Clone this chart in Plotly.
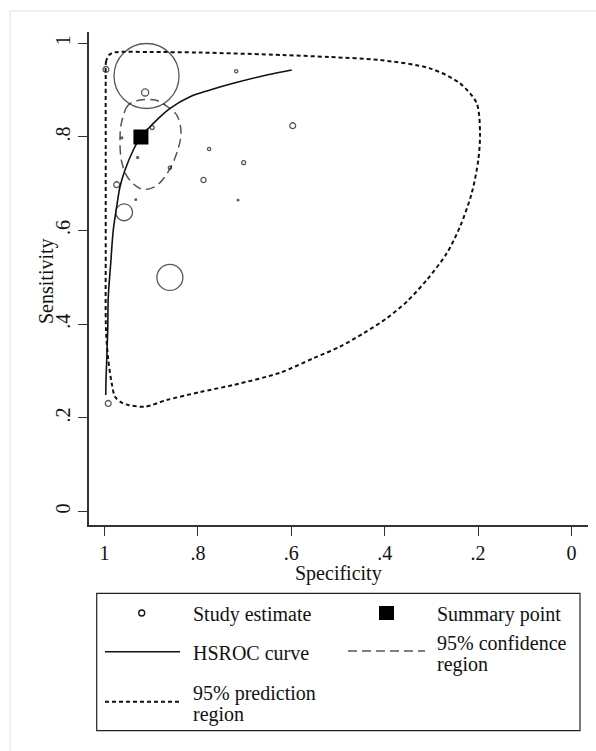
import plotly.graph_objects as go

# ---------------- data ----------------
study_spec = [0.997, 0.910, 0.913, 0.718, 0.597, 0.898, 0.963, 0.929, 0.776,
              0.702, 0.860, 0.788, 0.974, 0.933, 0.714, 0.958, 0.860, 0.992]
study_sens = [0.944, 0.930, 0.895, 0.940, 0.824, 0.820, 0.798, 0.756, 0.774,
              0.745, 0.734, 0.708, 0.698, 0.666, 0.665, 0.639, 0.500, 0.231]
# relative study weight (largest study = 1)
study_weight = [0.09, 1.00, 0.11, 0.05, 0.09, 0.06, 0.03, 0.03, 0.05,
                0.06, 0.05, 0.08, 0.09, 0.025, 0.025, 0.26, 0.40, 0.09]

summary_spec = [0.922]
summary_sens = [0.800]

hsroc_spec = [0.9974, 0.9968, 0.9931, 0.9919, 0.9867, 0.9812, 0.9739, 0.9668,
              0.9561, 0.9383, 0.9223, 0.9026, 0.8882, 0.8597, 0.8169, 0.7741,
              0.7242, 0.6527, 0.5991]
hsroc_sens = [0.2489, 0.2809, 0.3877, 0.4588, 0.5301, 0.6012, 0.6509, 0.6936,
              0.7293, 0.7720, 0.8002, 0.8217, 0.8360, 0.8610, 0.8858, 0.9001,
              0.9144, 0.9321, 0.9428]

conf_spec = [0.9240, 0.9490, 0.9632, 0.9668, 0.9632, 0.9490, 0.9203, 0.8919,
             0.8634, 0.8420, 0.8362, 0.8454, 0.8704, 0.8919, 0.9240]
conf_sens = [0.8787, 0.8681, 0.8324, 0.7970, 0.7470, 0.7116, 0.6887, 0.6936,
             0.7257, 0.7756, 0.8111, 0.8467, 0.8681, 0.8787, 0.8787]

pred_spec = [0.9974, 0.9968, 0.9904, 0.9775, 0.9026, 0.7955, 0.6178, 0.5171,
             0.4101, 0.3030, 0.2388, 0.2030, 0.1959, 0.1996, 0.2137, 0.2388,
             0.2672, 0.3101, 0.3529, 0.3957, 0.4458, 0.4957, 0.5529, 0.6242,
             0.7242, 0.7955, 0.8668, 0.9133, 0.9490, 0.9632, 0.9775, 0.9846,
             0.9919, 0.9968, 0.9974, 0.9974, 0.9974]
pred_sens = [0.9214, 0.9599, 0.9748, 0.9806, 0.9812, 0.9801, 0.9748, 0.9705,
             0.9641, 0.9464, 0.9144, 0.8717, 0.8076, 0.7506, 0.6796, 0.6082,
             0.5514, 0.4944, 0.4481, 0.4127, 0.3806, 0.3521, 0.3273, 0.2965,
             0.2703, 0.2553, 0.2382, 0.2239, 0.2276, 0.2325, 0.2453, 0.2739,
             0.3237, 0.3877, 0.5585, 0.7720, 0.9214]

tick_vals = [1, 0.8, 0.6, 0.4, 0.2, 0]
tick_text = ["1", ".8", ".6", ".4", ".2", "0"]

legend_labels = ["Study estimate", "Summary point", "HSROC curve",
                 ["95% confidence", "region"], ["95% prediction", "region"]]

# ---------------- figure ----------------
W, H = 596, 751
FONT = "Liberation Serif"
SIZE_SCALE = 65


def px(x):
    return x / W


def py(y):
    return 1 - y / H


fig = go.Figure()

fig.add_trace(go.Scatter(x=pred_spec, y=pred_sens, mode="lines",
                         line=dict(color="#111", width=2, dash="4px,3px",
                                   shape="spline", smoothing=0.8),
                         hoverinfo="skip", showlegend=False))
fig.add_trace(go.Scatter(x=conf_spec, y=conf_sens, mode="lines",
                         line=dict(color="#555", width=1.5, dash="9px,5px",
                                   shape="spline"),
                         hoverinfo="skip", showlegend=False))
fig.add_trace(go.Scatter(x=hsroc_spec, y=hsroc_sens, mode="lines",
                         line=dict(color="#111", width=1.6, shape="spline"),
                         hoverinfo="skip", showlegend=False))
fig.add_trace(go.Scatter(x=study_spec, y=study_sens, mode="markers",
                         marker=dict(symbol="circle-open",
                                     size=[w * SIZE_SCALE for w in study_weight],
                                     color="#111", line=dict(width=1.3, color="#111")),
                         showlegend=False))
fig.add_trace(go.Scatter(x=summary_spec, y=summary_sens, mode="markers",
                         marker=dict(symbol="square", size=15, color="#000"),
                         showlegend=False))

axis_common = dict(showgrid=False, zeroline=False, showline=True,
                   linecolor="#333", linewidth=1.5, ticks="outside",
                   ticklen=9, tickwidth=1.3, tickcolor="#333",
                   tickvals=tick_vals, ticktext=tick_text,
                   tickfont=dict(family=FONT, size=20, color="#111"))

fig.update_layout(
    width=W, height=H,
    margin=dict(l=0, r=0, t=0, b=0),
    paper_bgcolor="white", plot_bgcolor="white",
    xaxis=dict(domain=[89 / W, 588 / W], range=[1.0332, -0.0353], **axis_common),
    yaxis=dict(domain=[1 - 525 / H, 1 - 31.7 / H], range=[-0.0286, 1.0246],
               tickangle=-90, **axis_common),
    showlegend=False,
)

shapes = []
annotations = []

# page frame (light border)
shapes.append(dict(type="line", xref="paper", yref="paper", x0=px(10), x1=px(W + 5),
                   y0=py(11), y1=py(11), line=dict(color="#e3eeee", width=1.5)))
shapes.append(dict(type="line", xref="paper", yref="paper", x0=px(10), x1=px(10),
                   y0=py(11), y1=py(H + 5), line=dict(color="#e3eeee", width=1.5)))

# axis titles
annotations.append(dict(text="Specificity", xref="paper", yref="paper",
                        x=px(338), y=py(573), showarrow=False, xanchor="center",
                        yanchor="middle", font=dict(family=FONT, size=20, color="#111")))
annotations.append(dict(text="Sensitivity", xref="paper", yref="paper",
                        x=px(47), y=py(281), showarrow=False, textangle=-90,
                        xanchor="center", yanchor="middle",
                        font=dict(family=FONT, size=20, color="#111")))

# legend box
shapes.append(dict(type="rect", xref="paper", yref="paper", x0=px(96.7), x1=px(580),
                   y0=py(593.3), y1=py(730.7), line=dict(color="#222", width=1.2)))
# study estimate symbol
shapes.append(dict(type="circle", xref="paper", yref="paper", x0=px(138.7), x1=px(144.7),
                   y0=py(610), y1=py(616), line=dict(color="#111", width=1.3)))
# summary point symbol
shapes.append(dict(type="rect", xref="paper", yref="paper", x0=px(379), x1=px(394),
                   y0=py(606), y1=py(620), fillcolor="#000", line=dict(width=0)))
# HSROC line
shapes.append(dict(type="line", xref="paper", yref="paper", x0=px(105), x1=px(180),
                   y0=py(651.7), y1=py(651.7), line=dict(color="#111", width=1.6)))
# confidence line
shapes.append(dict(type="line", xref="paper", yref="paper", x0=px(348), x1=px(425),
                   y0=py(651), y1=py(651), line=dict(color="#555", width=1.5, dash="9px,5px")))
# prediction line
shapes.append(dict(type="line", xref="paper", yref="paper", x0=px(105), x1=px(180),
                   y0=py(701.7), y1=py(701.7), line=dict(color="#111", width=2, dash="4px,3px")))


def leg_text(t, x, y):
    annotations.append(dict(text=t, xref="paper", yref="paper", x=px(x), y=py(y),
                            showarrow=False, xanchor="left", yanchor="middle",
                            font=dict(family=FONT, size=20, color="#111")))


leg_text(legend_labels[0], 191, 614)
leg_text(legend_labels[1], 435, 614)
leg_text(legend_labels[2], 191, 653)
leg_text(legend_labels[3][0], 435, 643)
leg_text(legend_labels[3][1], 435, 664)
leg_text(legend_labels[4][0], 191, 693)
leg_text(legend_labels[4][1], 191, 714)

fig.update_layout(shapes=shapes, annotations=annotations)

fig.write_html("out.html")
